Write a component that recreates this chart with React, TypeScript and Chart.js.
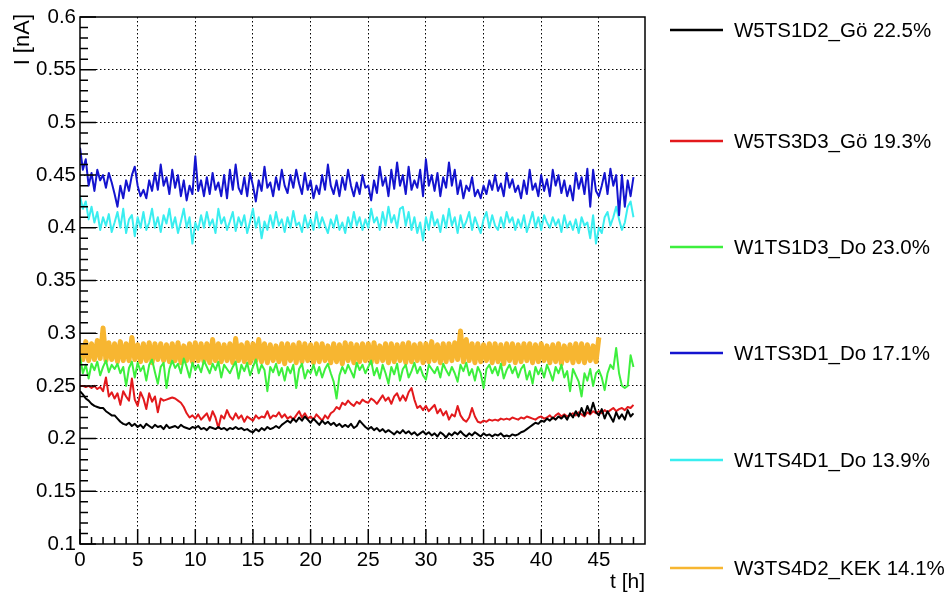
import React, { useEffect, useRef } from "react";
import { Chart, registerables } from "chart.js";
Chart.register(...registerables);

// sampling interval of every series, in hours
const SAMPLE_STEP_H = 0.25;

const X_MAJOR = [0, 5, 10, 15, 20, 25, 30, 35, 40, 45];
const X_LABELS = ["0", "5", "10", "15", "20", "25", "30", "35", "40", "45"];
const Y_MAJOR = [0.1, 0.15, 0.2, 0.25, 0.3, 0.35, 0.4, 0.45, 0.5, 0.55, 0.6];
const Y_LABELS = ["0.1", "0.15", "0.2", "0.25", "0.3", "0.35", "0.4", "0.45", "0.5", "0.55", "0.6"];

const SERIES_NAMES = [
  "W5TS1D2_Gö 22.5%",
  "W5TS3D3_Gö 19.3%",
  "W1TS1D3_Do 23.0%",
  "W1TS3D1_Do 17.1%",
  "W1TS4D1_Do 13.9%",
  "W3TS4D2_KEK 14.1%",
];
const SERIES_COLORS = ["#000000", "#e3191c", "#3def3d", "#1414cf", "#3aeef0", "#f7b631"];
const SERIES_WIDTHS = [2, 2, 2, 2, 2, 5];

const W5TS1D2 = [
  0.245, 0.242, 0.238, 0.236, 0.233, 0.231, 0.23, 0.229, 0.229, 0.226, 0.224, 0.222,
  0.222, 0.219, 0.216, 0.214, 0.213, 0.215, 0.212, 0.214, 0.211, 0.213, 0.21, 0.214,
  0.212, 0.21, 0.213, 0.211, 0.212, 0.209, 0.213, 0.21, 0.211, 0.212, 0.21, 0.213,
  0.211, 0.21, 0.209, 0.211, 0.21, 0.212, 0.209, 0.21, 0.208, 0.211, 0.21, 0.209,
  0.211, 0.209, 0.21, 0.208, 0.21, 0.209, 0.211, 0.209, 0.21, 0.208, 0.209, 0.207,
  0.206, 0.209, 0.207, 0.21, 0.208, 0.211, 0.209, 0.21, 0.212, 0.21, 0.213, 0.215,
  0.217, 0.215, 0.219, 0.216, 0.22, 0.217, 0.221, 0.218, 0.215, 0.219, 0.216, 0.213,
  0.217, 0.214, 0.216, 0.213, 0.215, 0.212, 0.214, 0.211, 0.213, 0.211, 0.214, 0.21,
  0.212, 0.217, 0.214, 0.211, 0.209, 0.211, 0.208, 0.21, 0.207, 0.209, 0.206, 0.208,
  0.206, 0.204, 0.207, 0.205, 0.208, 0.205, 0.207, 0.204, 0.206, 0.203, 0.205, 0.207,
  0.204, 0.206, 0.203, 0.205, 0.202, 0.206, 0.204, 0.201, 0.205, 0.203, 0.206, 0.204,
  0.207, 0.204, 0.202, 0.205, 0.203, 0.206, 0.204, 0.202, 0.205, 0.203, 0.204, 0.202,
  0.204, 0.203, 0.205, 0.202, 0.203, 0.202, 0.204, 0.203, 0.204, 0.206, 0.207, 0.209,
  0.211, 0.213, 0.215, 0.214, 0.217, 0.216, 0.219, 0.217, 0.22, 0.218, 0.221, 0.219,
  0.222, 0.218, 0.224, 0.22, 0.226, 0.221, 0.229, 0.222, 0.231, 0.224, 0.234, 0.225,
  0.222, 0.228, 0.219, 0.226, 0.221, 0.216, 0.225, 0.219, 0.223, 0.218, 0.227, 0.221,
  0.224,
];

const W5TS3D3 = [
  0.25, 0.25, 0.249, 0.25, 0.248, 0.25, 0.247, 0.249, 0.245, 0.258, 0.24, 0.244,
  0.238, 0.243, 0.232, 0.245, 0.24, 0.236, 0.257, 0.237, 0.231, 0.244, 0.238, 0.228,
  0.243, 0.235, 0.24, 0.225, 0.238, 0.236, 0.237, 0.238, 0.239, 0.238, 0.236, 0.234,
  0.23, 0.224, 0.22, 0.222, 0.219, 0.223, 0.218, 0.221, 0.224, 0.217, 0.226, 0.22,
  0.21, 0.222, 0.219, 0.227, 0.221, 0.218, 0.224, 0.219, 0.222, 0.216, 0.221, 0.219,
  0.217, 0.222, 0.219, 0.221, 0.22, 0.226, 0.219, 0.222, 0.221, 0.225, 0.22, 0.223,
  0.219, 0.221, 0.218, 0.222, 0.226, 0.22, 0.224, 0.219, 0.221, 0.218, 0.223, 0.22,
  0.217, 0.222, 0.219, 0.224, 0.226, 0.23, 0.228, 0.234, 0.232, 0.236, 0.233, 0.231,
  0.235, 0.233, 0.237, 0.235, 0.234, 0.238, 0.236, 0.233, 0.237, 0.241, 0.236, 0.239,
  0.233, 0.24, 0.243, 0.236, 0.241, 0.236, 0.244, 0.248, 0.237, 0.229, 0.231, 0.227,
  0.231, 0.226, 0.229, 0.232, 0.224, 0.228, 0.222, 0.226, 0.218, 0.223, 0.221, 0.231,
  0.222, 0.218, 0.216, 0.22, 0.229, 0.221, 0.216, 0.215, 0.217, 0.216, 0.218, 0.217,
  0.218, 0.217, 0.219, 0.218, 0.219, 0.218, 0.22, 0.219, 0.218, 0.22, 0.219, 0.221,
  0.22, 0.219, 0.218, 0.22, 0.221, 0.219, 0.22, 0.222, 0.219, 0.222, 0.224, 0.221,
  0.223, 0.221, 0.222, 0.224, 0.222, 0.225, 0.223, 0.221, 0.225, 0.223, 0.226, 0.224,
  0.226, 0.224, 0.227, 0.225, 0.227, 0.229, 0.226, 0.228, 0.229, 0.227, 0.23, 0.229,
  0.232,
];

const W1TS1D3 = [
  0.278, 0.262, 0.27, 0.257, 0.271, 0.265, 0.273, 0.26, 0.268, 0.274, 0.263, 0.27,
  0.266, 0.271, 0.262, 0.268, 0.25, 0.267, 0.273, 0.258, 0.272, 0.264, 0.269, 0.255,
  0.27, 0.275, 0.263, 0.252, 0.268, 0.272, 0.248, 0.266, 0.274, 0.267, 0.271, 0.262,
  0.276, 0.268, 0.258, 0.272, 0.265, 0.27, 0.263, 0.274, 0.268, 0.262, 0.271, 0.265,
  0.273, 0.258, 0.27, 0.266, 0.262, 0.268, 0.273, 0.257, 0.27, 0.264, 0.272, 0.26,
  0.268, 0.275, 0.262, 0.27, 0.265, 0.245, 0.268, 0.263, 0.271, 0.26, 0.267, 0.255,
  0.268, 0.262, 0.27, 0.248, 0.266, 0.271, 0.257, 0.265, 0.262, 0.27, 0.26, 0.268,
  0.258, 0.266, 0.271, 0.262, 0.254, 0.238, 0.26, 0.268, 0.262, 0.27, 0.264, 0.258,
  0.272, 0.265, 0.27, 0.262, 0.268, 0.274, 0.26, 0.267, 0.257, 0.27, 0.262, 0.252,
  0.268, 0.261, 0.271, 0.255, 0.266, 0.27, 0.258, 0.264, 0.272, 0.262, 0.268, 0.26,
  0.256, 0.27, 0.266, 0.262, 0.268, 0.258, 0.271, 0.265, 0.26, 0.268, 0.262, 0.254,
  0.27, 0.264, 0.272, 0.26, 0.266, 0.255, 0.268, 0.262, 0.248, 0.266, 0.27, 0.262,
  0.268, 0.26, 0.271, 0.257, 0.265, 0.27, 0.262, 0.268, 0.258, 0.266, 0.27, 0.256,
  0.264, 0.252, 0.268, 0.261, 0.267, 0.258, 0.27, 0.263, 0.255, 0.268, 0.262, 0.27,
  0.258, 0.264, 0.245, 0.266, 0.26, 0.254, 0.24, 0.262, 0.255, 0.266, 0.25, 0.262,
  0.265, 0.258, 0.246, 0.262, 0.27, 0.266, 0.286, 0.262, 0.25, 0.248, 0.25, 0.279,
  0.268,
];

const W1TS3D1 = [
  0.476, 0.455, 0.465, 0.44, 0.452, 0.435, 0.455, 0.445, 0.45, 0.438, 0.452, 0.443,
  0.432, 0.42, 0.44, 0.428, 0.445, 0.435, 0.45, 0.458, 0.44, 0.43, 0.436, 0.428,
  0.445, 0.435, 0.452, 0.436, 0.46, 0.44, 0.448, 0.432, 0.455, 0.438, 0.45, 0.43,
  0.445, 0.426, 0.44, 0.432, 0.468, 0.435, 0.445, 0.43, 0.448, 0.432, 0.452, 0.436,
  0.443, 0.43, 0.45, 0.428, 0.455, 0.436, 0.46, 0.438, 0.432, 0.448, 0.43, 0.452,
  0.44, 0.425, 0.445, 0.435, 0.458, 0.438, 0.443, 0.43, 0.448, 0.436, 0.455, 0.44,
  0.433, 0.45, 0.438, 0.455, 0.442, 0.432, 0.452, 0.436, 0.445, 0.428, 0.44, 0.432,
  0.45, 0.436, 0.46, 0.44, 0.432, 0.445, 0.43, 0.448, 0.436, 0.455, 0.44, 0.43,
  0.443, 0.432, 0.45, 0.438, 0.44, 0.426, 0.445, 0.433, 0.458, 0.44, 0.448, 0.43,
  0.455, 0.437, 0.462, 0.44, 0.45, 0.432, 0.458, 0.436, 0.445, 0.438, 0.455, 0.43,
  0.465, 0.44, 0.45, 0.435, 0.452, 0.43, 0.448, 0.438, 0.462, 0.44, 0.455, 0.432,
  0.445, 0.428, 0.44, 0.435, 0.448, 0.43, 0.436, 0.428, 0.44, 0.432, 0.445, 0.436,
  0.45, 0.435, 0.442, 0.43, 0.452, 0.438, 0.446, 0.434, 0.44, 0.428, 0.445, 0.432,
  0.455, 0.436, 0.442, 0.43, 0.45, 0.435, 0.446, 0.43, 0.455, 0.44, 0.45, 0.433,
  0.445, 0.43, 0.44, 0.426, 0.452, 0.437, 0.448, 0.432, 0.456, 0.42, 0.455, 0.435,
  0.43, 0.44, 0.452, 0.432, 0.456, 0.44, 0.45, 0.412, 0.45, 0.42, 0.445, 0.43,
  0.448,
];

const W1TS4D1 = [
  0.43, 0.418, 0.425, 0.408, 0.42, 0.405, 0.415, 0.398, 0.41, 0.402, 0.413, 0.396,
  0.405, 0.415, 0.4, 0.418, 0.395, 0.408, 0.412, 0.392, 0.41, 0.4, 0.415, 0.398,
  0.405, 0.418, 0.4, 0.41, 0.396, 0.412, 0.404, 0.418, 0.4, 0.41, 0.395, 0.406,
  0.418, 0.4, 0.41, 0.385, 0.405, 0.398, 0.412, 0.4, 0.415, 0.402, 0.408, 0.395,
  0.418, 0.404, 0.41, 0.398, 0.406, 0.415, 0.397, 0.41, 0.402, 0.412, 0.395, 0.406,
  0.418, 0.4, 0.41, 0.39, 0.406, 0.398, 0.412, 0.4, 0.415, 0.402, 0.408, 0.396,
  0.41, 0.4, 0.416, 0.402, 0.405, 0.396, 0.412, 0.4, 0.408, 0.398, 0.415, 0.4,
  0.41, 0.402, 0.395, 0.408, 0.4, 0.412, 0.398, 0.405, 0.395, 0.41, 0.4, 0.415,
  0.402, 0.41, 0.398, 0.408, 0.4, 0.418, 0.405, 0.41, 0.398, 0.415, 0.402, 0.42,
  0.405, 0.412, 0.4, 0.418, 0.42, 0.402, 0.415, 0.398, 0.41, 0.395, 0.405, 0.388,
  0.41, 0.398, 0.415, 0.402, 0.408, 0.396, 0.412, 0.4, 0.418, 0.402, 0.41, 0.395,
  0.412, 0.4, 0.406, 0.415, 0.398, 0.41, 0.402, 0.395, 0.408, 0.415, 0.4, 0.412,
  0.402, 0.398, 0.41, 0.4, 0.415, 0.405, 0.41, 0.398, 0.408, 0.4, 0.412, 0.396,
  0.405, 0.415, 0.4, 0.41, 0.398, 0.412, 0.405, 0.4, 0.41, 0.402, 0.408, 0.396,
  0.412, 0.4, 0.406, 0.398, 0.408, 0.395, 0.41, 0.402, 0.405, 0.39, 0.412, 0.385,
  0.4, 0.395, 0.41, 0.415, 0.402, 0.41, 0.42, 0.408, 0.398, 0.405, 0.42, 0.425,
  0.41,
];

const W3TS4D2 = [
  0.289, 0.275, 0.292, 0.274, 0.29, 0.275, 0.293, 0.276, 0.305, 0.274, 0.291, 0.275,
  0.29, 0.273, 0.292, 0.274, 0.29, 0.274, 0.296, 0.275, 0.289, 0.273, 0.29, 0.274,
  0.291, 0.272, 0.29, 0.275, 0.29, 0.274, 0.289, 0.273, 0.29, 0.274, 0.291, 0.272,
  0.288, 0.274, 0.29, 0.273, 0.291, 0.274, 0.29, 0.273, 0.29, 0.272, 0.294, 0.274,
  0.29, 0.273, 0.289, 0.274, 0.29, 0.272, 0.295, 0.274, 0.289, 0.273, 0.291, 0.272,
  0.29, 0.274, 0.294, 0.273, 0.29, 0.272, 0.289, 0.274, 0.288, 0.273, 0.29, 0.271,
  0.29, 0.274, 0.289, 0.272, 0.291, 0.273, 0.29, 0.274, 0.289, 0.272, 0.29, 0.273,
  0.29, 0.274, 0.288, 0.272, 0.29, 0.273, 0.289, 0.271, 0.291, 0.274, 0.29, 0.272,
  0.289, 0.273, 0.29, 0.274, 0.29, 0.272, 0.291, 0.273, 0.288, 0.274, 0.29, 0.272,
  0.29, 0.273, 0.289, 0.274, 0.29, 0.272, 0.291, 0.273, 0.289, 0.274, 0.29, 0.272,
  0.29, 0.273, 0.292, 0.274, 0.289, 0.272, 0.29, 0.273, 0.29, 0.274, 0.291, 0.275,
  0.302, 0.273, 0.294, 0.274, 0.29, 0.272, 0.29, 0.273, 0.289, 0.274, 0.29, 0.272,
  0.29, 0.273, 0.289, 0.271, 0.29, 0.274, 0.29, 0.272, 0.289, 0.273, 0.29, 0.274,
  0.29, 0.272, 0.289, 0.273, 0.29, 0.274, 0.288, 0.272, 0.289, 0.273, 0.29, 0.271,
  0.288, 0.274, 0.289, 0.272, 0.29, 0.273, 0.29, 0.272, 0.289, 0.274, 0.288, 0.273,
  0.296,
];

const SERIES_VALUES = [W5TS1D2, W5TS3D3, W1TS1D3, W1TS3D1, W1TS4D1, W3TS4D2];

const FONT = "'Liberation Sans', Arial, Helvetica, sans-serif";

const toPoints = (vals: number[]) => vals.map((v, i) => ({ x: i * SAMPLE_STEP_H, y: v }));

const rootStylePlugin = {
  id: "rootStyle",
  afterDatasetsDraw(chart: any) {
    const { ctx, chartArea, scales } = chart;
    const { left, right, top, bottom } = chartArea;
    const xs = scales.x;
    const ys = scales.y;
    ctx.save();
    ctx.strokeStyle = "#000";
    ctx.lineWidth = 1.5;
    ctx.strokeRect(left, top, right - left, bottom - top);
    ctx.beginPath();
    for (let h = 0; h <= 48; h++) {
      const px = xs.getPixelForValue(h);
      const len = h % 5 === 0 ? 15 : 7;
      ctx.moveTo(px, bottom);
      ctx.lineTo(px, bottom - len);
    }
    for (let k = 10; k <= 60; k++) {
      const py = ys.getPixelForValue(k / 100);
      const len = k % 5 === 0 ? 16 : 8;
      ctx.moveTo(left, py);
      ctx.lineTo(left + len, py);
    }
    ctx.stroke();
    ctx.restore();
  },
  afterDraw(chart: any) {
    const { ctx, chartArea } = chart;
    ctx.save();
    ctx.fillStyle = "#000";
    // axis titles
    ctx.font = `21px ${FONT}`;
    ctx.textAlign = "right";
    ctx.textBaseline = "middle";
    ctx.fillText("t [h]", chartArea.right, 582);
    ctx.save();
    ctx.font = `22px ${FONT}`;
    ctx.translate(23, 14);
    ctx.rotate(-Math.PI / 2);
    ctx.textAlign = "right";
    ctx.fillText("I [nA]", 0, 0);
    ctx.restore();
    // legend
    ctx.font = `20.5px ${FONT}`;
    const rows = [30, 141, 247, 353, 460, 568];
    chart.data.datasets.forEach((ds: any, i: number) => {
      const y = rows[i];
      ctx.strokeStyle = ds.borderColor;
      ctx.lineWidth = 2.5;
      ctx.beginPath();
      ctx.moveTo(670, y);
      ctx.lineTo(723, y);
      ctx.stroke();
      ctx.fillStyle = "#000";
      ctx.textAlign = "left";
      ctx.textBaseline = "middle";
      ctx.fillText(ds.label, 734, y + 1);
    });
    ctx.restore();
  },
};

export default function App() {
  const ref = useRef<HTMLCanvasElement | null>(null);
  useEffect(() => {
    if (!ref.current) return;
    const chart = new Chart(ref.current, {
      type: "line",
      data: {
        datasets: SERIES_VALUES.map((vals, i) => ({
          label: SERIES_NAMES[i],
          data: toPoints(vals),
          borderColor: SERIES_COLORS[i],
          backgroundColor: SERIES_COLORS[i],
          borderWidth: SERIES_WIDTHS[i],
          borderJoinStyle: "round",
          pointRadius: 0,
          tension: 0,
          fill: false,
        })),
      },
      options: {
        responsive: false,
        animation: false,
        events: [],
        layout: { padding: { left: 0, right: 304, top: 17, bottom: 0 } },
        plugins: { legend: { display: false }, tooltip: { enabled: false } },
        scales: {
          x: {
            type: "linear",
            min: 0,
            max: 49,
            afterBuildTicks: (s: any) => {
              s.ticks = X_MAJOR.map((v) => ({ value: v }));
            },
            afterFit: (s: any) => {
              s.height = 52;
            },
            ticks: {
              autoSkip: false,
              maxRotation: 0,
              padding: 4,
              color: "#000",
              font: { family: FONT, size: 20.5 },
              callback: (_v: any, idx: number) => X_LABELS[idx],
            },
            grid: {
              drawTicks: false,
              color: (c: any) => (c.tick && c.tick.value === 0 ? "rgba(0,0,0,0)" : "#000"),
              lineWidth: 1,
            },
            border: { display: false, dash: [1.5, 2.5] },
          },
          y: {
            type: "linear",
            min: 0.1,
            max: 0.6,
            afterBuildTicks: (s: any) => {
              s.ticks = Y_MAJOR.map((v) => ({ value: v }));
            },
            afterFit: (s: any) => {
              s.width = 80;
            },
            ticks: {
              autoSkip: false,
              padding: 4,
              color: "#000",
              font: { family: FONT, size: 20.5 },
              callback: (_v: any, idx: number) => Y_LABELS[idx],
            },
            grid: {
              drawTicks: false,
              color: (c: any) =>
                c.tick && (Math.abs(c.tick.value - 0.1) < 1e-9 || Math.abs(c.tick.value - 0.6) < 1e-9)
                  ? "rgba(0,0,0,0)"
                  : "#000",
              lineWidth: 1,
            },
            border: { display: false, dash: [1.5, 2.5] },
          },
        },
      },
      plugins: [rootStylePlugin],
    } as any);
    return () => chart.destroy();
  }, []);
  return (
    <div style={{ position: "absolute", left: 0, top: 0, width: 949, height: 596, background: "#fff" }}>
      <canvas ref={ref} width={949} height={596} style={{ width: 949, height: 596, display: "block" }} />
    </div>
  );
}
